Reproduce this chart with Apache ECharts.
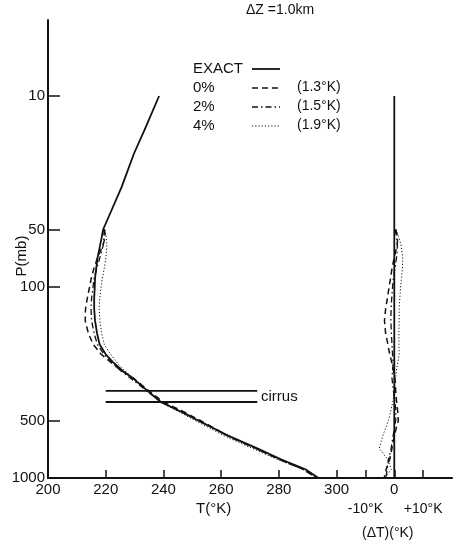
<!DOCTYPE html>
<html>
<head>
<meta charset="utf-8">
<script src="https://cdn.jsdelivr.net/npm/echarts@6/dist/echarts.min.js"></script>
<style>
  html, body { margin: 0; padding: 0; background: #fff; }
  #main { width: 458px; height: 548px; }
</style>
</head>
<body>
<div id="main"></div>
<script>
// pressure levels (mb) and temperatures (K)
const exactP = [10, 15, 20, 30, 40, 50, 55, 60, 70, 80, 90, 100, 115, 130, 150, 175, 200, 225, 250, 275, 300, 350, 400, 450, 500, 600, 700, 800, 900, 1000]
const exactT = [238.5, 233.5, 229.8, 225.5, 221.9, 219.1, 218.6, 218.1, 217.2, 216.7, 216.3, 216.2, 216.0, 216.0, 216.3, 217.0, 217.9, 220.0, 222.8, 225.9, 229.4, 234.5, 239.1, 246.1, 252.0, 262.4, 272.5, 280.9, 289.2, 293.7]

const retP = [50, 55, 60, 70, 80, 90, 100, 115, 130, 150, 175, 200, 225, 250, 275, 300, 350, 400, 450, 500, 600, 700, 800, 900, 1000]
const t0 = [219.6, 219.8, 219.1, 217.2, 215.9, 215.0, 214.4, 213.6, 213.0, 212.9, 214.0, 215.7, 218.4, 222.0, 225.6, 229.6, 235.0, 239.9, 247.0, 252.8, 262.2, 272.0, 280.3, 288.4, 293.2]
const t2 = [219.4, 219.4, 219.2, 218.0, 216.9, 216.0, 215.6, 215.1, 214.9, 215.1, 216.0, 217.1, 219.4, 222.4, 225.3, 228.6, 234.2, 239.3, 246.5, 252.3, 262.0, 271.9, 280.1, 288.5, 293.4]
const t4 = [219.7, 220.2, 220.4, 220.1, 219.5, 218.8, 218.4, 217.9, 217.7, 218.0, 218.6, 219.5, 221.7, 224.0, 226.6, 229.8, 234.5, 238.7, 245.4, 251.0, 260.9, 270.8, 279.6, 288.2, 293.0]

// retrieval minus exact (K)
const d0 = [0.5, 1.2, 1.0, 0.0, -0.8, -1.3, -1.8, -2.4, -3.0, -3.4, -3.0, -2.2, -1.6, -0.8, -0.3, 0.2, 0.5, 0.8, 1.2, 1.4, 0.0, -0.8, -1.6, -2.8, -3.5]
const d2 = [0.3, 0.8, 1.1, 0.8, 0.2, -0.3, -0.6, -0.9, -1.1, -1.2, -1.0, -0.8, -0.6, -0.4, -0.6, -0.8, -0.3, 0.2, 0.6, 0.5, -0.4, -1.1, -2.0, -2.5, -2.9]
const d4 = [0.6, 1.6, 2.3, 2.9, 2.8, 2.5, 2.2, 1.9, 1.7, 1.7, 1.6, 1.6, 1.7, 1.2, 0.7, 0.4, 0.0, -0.5, -1.3, -2.0, -4.0, -5.2, -2.3, -1.0, -3.4]
const zeroP = [10, 1000]
const zeroD = [0, 0]

// cirrus layer
const cirrusP = [350, 400]
const cirrusT = [220, 272.5]

// ticks
const pTicks = [10, 50, 100, 500, 1000]
const tLabels = [200, 220, 240, 260, 280, 300, 320]
const tTicks = [220, 240, 260, 280, 300]
const dTicks = [-10, 0, 10]
const dLabels = [-10, 10]

const names = ['EXACT', '0%', '2%', '4%']
const rms = ['', '(1.3°K)', '(1.5°K)', '(1.9°K)']

const ink = '#111'
const font = 'Liberation Sans'
const styles = [
  { type: 'solid', width: 1.8 },
  { type: [6, 4], width: 1.5 },
  { type: [6, 3, 1.5, 3], width: 1.3 },
  { type: [1.2, 2], width: 1 }
]

function pairs(xs, ys) {
  return xs.map((x, i) => [x, ys[i]])
}

function lineSeries(data, style, xIndex) {
  return {
    type: 'line',
    xAxisIndex: xIndex,
    data: data,
    showSymbol: false,
    silent: true,
    lineStyle: { color: ink, width: style.width, type: style.type },
    z: style.type === 'solid' ? 5 : 3
  }
}

let chart = echarts.init(document.getElementById('main'), null, { renderer: 'canvas' })

let series = [
  lineSeries(pairs(exactT, exactP), styles[0], 0),
  lineSeries(pairs(t0, retP), styles[1], 0),
  lineSeries(pairs(t2, retP), styles[2], 0),
  lineSeries(pairs(t4, retP), styles[3], 0),
  lineSeries(pairs(zeroD, zeroP), styles[0], 1),
  lineSeries(pairs(d0, retP), styles[1], 1),
  lineSeries(pairs(d2, retP), styles[2], 1),
  lineSeries(pairs(d4, retP), styles[3], 1)
]
cirrusP.forEach(p => {
  series.push(lineSeries(cirrusT.map(t => [t, p]), { type: 'solid', width: 1.8 }, 0))
})

// hand drawn legend
let legend = []
names.forEach((n, i) => {
  let y = 69 + i * 19
  legend.push({ type: 'text', left: 193, top: y - 8, style: { text: n, font: '15px ' + font, fill: ink } })
  legend.push({
    type: 'line',
    shape: { x1: 252, y1: y, x2: 280, y2: y },
    style: { stroke: ink, lineWidth: styles[i].width, lineDash: styles[i].type === 'solid' ? null : styles[i].type }
  })
  if (rms[i]) {
    legend.push({ type: 'text', left: 297, top: y - 8, style: { text: rms[i], font: '14px ' + font, fill: ink } })
  }
})

let option = {
  animation: false,
  backgroundColor: '#fff',
  grid: { left: 48, right: 6, top: 20, bottom: 70 },
  xAxis: [{
    type: 'value',
    min: 200,
    max: 340,
    axisLine: { onZero: false, lineStyle: { color: ink, width: 2 } },
    axisTick: { inside: true, length: 8, customValues: tTicks, lineStyle: { color: ink, width: 1.5 } },
    axisLabel: {
      customValues: tLabels,
      formatter: v => v === 320 ? '0' : String(v),
      color: ink, fontSize: 15, fontFamily: font, margin: 4
    },
    splitLine: { show: false }
  }, {
    type: 'value',
    min: -120,
    max: 20,
    position: 'bottom',
    axisLine: { show: false, onZero: false },
    axisTick: { inside: true, length: 8, customValues: dTicks, lineStyle: { color: ink, width: 1.5 } },
    axisLabel: {
      customValues: dLabels,
      formatter: v => (v < 0 ? '-10°K' : '+10°K'),
      color: ink, fontSize: 14, fontFamily: font, margin: 24
    },
    splitLine: { show: false }
  }],
  yAxis: {
    type: 'log',
    logBase: 10,
    inverse: true,
    min: 4,
    max: 1000,
    axisLine: { show: true, onZero: false, lineStyle: { color: ink, width: 2 } },
    axisTick: { show: true, inside: true, length: 12, customValues: pTicks, lineStyle: { color: ink, width: 1.5 } },
    axisLabel: { customValues: pTicks, formatter: v => String(v), color: ink, fontSize: 15, fontFamily: font, margin: 3 },
    minorTick: { show: false },
    splitLine: { show: false }
  },
  graphic: [
    { type: 'text', left: 246, top: 3, style: { text: 'ΔZ =1.0km', font: '14px ' + font, fill: ink } },
    { type: 'text', x: 22, y: 256, rotation: Math.PI / 2,
      style: { text: 'P(mb)', font: '15px ' + font, fill: ink, align: 'center', verticalAlign: 'middle' } },
    { type: 'text', left: 196, top: 501, style: { text: 'T(°K)', font: '15px ' + font, fill: ink } },
    { type: 'text', left: 362, top: 526, style: { text: '(ΔT)(°K)', font: '14px ' + font, fill: ink } },
    { type: 'text', left: 261, top: 389, style: { text: 'cirrus', font: '15px ' + font, fill: ink } }
  ].concat(legend),
  series: series
}

chart.setOption(option)
</script>
</body>
</html>
